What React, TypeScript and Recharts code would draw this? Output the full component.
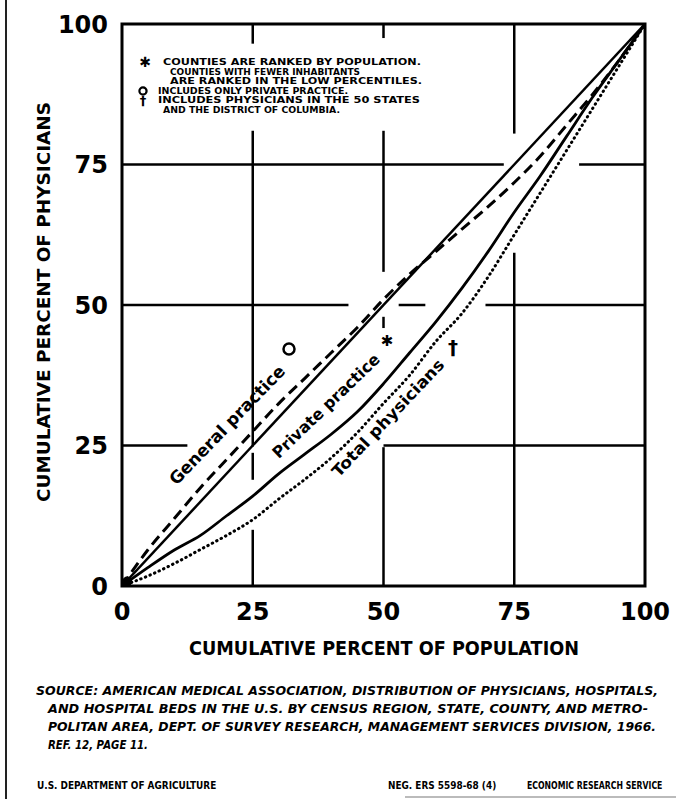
import React from "react";
import { LineChart, Line, XAxis, YAxis, ReferenceLine, ReferenceArea, ReferenceDot } from "recharts";

// cumulative percent of population (x) and cumulative percent of physicians (y)
const popPct = [0, 5, 10, 15, 20, 25, 30, 35, 40, 45, 50, 55, 60, 65, 70, 75, 80, 85, 90, 95, 100];
const generalPractice = [0, 6.5, 12, 17.5, 22.5, 27.5, 32.5, 37, 41.5, 46, 51, 55.5, 59.5, 63.5, 67.5, 71.8, 76.5, 82, 87.5, 93.5, 100];
const privatePractice = [0, 3.3, 6.4, 9, 12.5, 16, 20, 23.5, 27, 31, 36, 41.5, 47, 53, 59.5, 66.5, 73, 80, 87, 93.5, 100];
const totalPhysicians = [0, 1.8, 4, 6.5, 9, 11.8, 15.5, 19, 22.8, 27.3, 32.5, 37.5, 43.5, 48.5, 55, 62.5, 70, 77.5, 85, 92.5, 100];
const equalityX = [0, 100];
const equalityY = [0, 100];
const axisTicks = [0, 25, 50, 75, 100];

const legendLines = [
  "COUNTIES ARE RANKED BY POPULATION.",
  "COUNTIES WITH FEWER INHABITANTS",
  "ARE RANKED IN THE LOW PERCENTILES.",
  "INCLUDES ONLY PRIVATE PRACTICE.",
  "INCLUDES PHYSICIANS IN THE 50 STATES",
  "AND THE DISTRICT OF COLUMBIA.",
];
const sourceLines = [
  "SOURCE: AMERICAN MEDICAL ASSOCIATION, DISTRIBUTION OF PHYSICIANS, HOSPITALS,",
  "AND HOSPITAL BEDS IN THE U.S. BY CENSUS REGION, STATE, COUNTY, AND METRO-",
  "POLITAN AREA, DEPT. OF SURVEY RESEARCH, MANAGEMENT SERVICES DIVISION, 1966.",
  "REF. 12, PAGE 11.",
];

const rows = (xs: number[], ys: number[]) => xs.map((x, i) => ({ x, y: ys[i] }));

// hand-drafted grid: lines are broken where curves and labels pass
const gridSegs: [number, number, number, number][] = [
  [25, 100, 25, 96.5], [25, 81, 25, 24.8], [25, 23.7, 25, 18.9], [25, 10, 25, 0],
  [50, 100, 50, 97.5], [50, 81, 50, 55.9], [50, 47.9, 50, 45.9], [50, 24.7, 50, 0],
  [75, 100, 75, 80.5], [75, 59.3, 75, 0],
  [0, 75, 73, 75], [87.4, 75, 100, 75],
  [0, 50, 43.3, 50], [52.9, 50, 58, 50], [69.5, 50, 100, 50],
  [0, 25, 12.5, 25], [50, 25, 100, 25],
];

const font = "'DejaVu Sans', sans-serif";
const tickStyle = { fontSize: 24, fontWeight: 700, fill: "#000", fontFamily: font };

// squeeze a footer text horizontally (condensed type of the original)
function Condensed({ x, y, sx, size, children }: { x: number; y: number; sx: number; size: number; children: string }) {
  return (
    <g transform={`translate(${x},${y}) scale(${sx},1)`}>
      <text fontSize={size}>{children}</text>
    </g>
  );
}

export default function App() {
  return (
    <div style={{ position: "absolute", left: 0, top: 0, width: 676, height: 799, background: "#fff", overflow: "hidden" }}>
      <div style={{ position: "absolute", left: 5, top: 0, width: 2, height: 799, background: "#222" }} />
      <div style={{ position: "absolute", left: 405, top: 796, width: 271, height: 2, background: "#bbb" }} />
      <LineChart width={676} height={799} margin={{ top: 24, right: 31, bottom: 183, left: 62 }}>
        <XAxis type="number" dataKey="x" domain={[0, 100]} ticks={axisTicks} allowDataOverflow
          axisLine={false} tickLine={false} tickSize={6} tickMargin={11} tick={tickStyle} height={30} />
        <YAxis type="number" dataKey="y" domain={[0, 100]} ticks={axisTicks} allowDataOverflow
          axisLine={false} tickLine={false} tickSize={6} tickMargin={8} tick={tickStyle} width={60} />
        {gridSegs.map((s, i) => (
          <ReferenceLine key={i} segment={[{ x: s[0], y: s[1] }, { x: s[2], y: s[3] }]} stroke="#000" strokeWidth={2.5} />
        ))}
        <ReferenceArea x1={0} x2={100} y1={0} y2={100} fill="none" stroke="#000" strokeWidth={3} />
        <Line data={rows(equalityX, equalityY)} dataKey="y" type="linear" stroke="#000" strokeWidth={2.5}
          dot={false} activeDot={false} isAnimationActive={false} />
        <Line data={rows(popPct, generalPractice)} dataKey="y" type="monotone" stroke="#000" strokeWidth={3}
          strokeDasharray="11 6" dot={false} activeDot={false} isAnimationActive={false} />
        <Line data={rows(popPct, privatePractice)} dataKey="y" type="monotone" stroke="#000" strokeWidth={2.8}
          dot={false} activeDot={false} isAnimationActive={false} />
        <Line data={rows(popPct, totalPhysicians)} dataKey="y" type="monotone" stroke="#000" strokeWidth={3}
          strokeDasharray="0.5 4.5" strokeLinecap="round" dot={false} activeDot={false} isAnimationActive={false} />
        <ReferenceDot x={1} y={0.8} r={5} fill="#000" stroke="none" />
      </LineChart>
      <svg width={676} height={799} style={{ position: "absolute", left: 0, top: 0, pointerEvents: "none" }}
        fontFamily={font} fontWeight={700} fill="#000">
        {/* notes box */}
        <text x={145} y={67} fontSize={14} textAnchor="middle">✱</text>
        <circle cx={143} cy={91} r={3.6} fill="none" stroke="#000" strokeWidth={2.2} />
        <text x={143} y={105} fontSize={13} textAnchor="middle">†</text>
        {legendLines.map((t, i) => {
          const xs = [163, 170, 170, 158, 158, 163];
          const ws = [258, 190, 252, 190, 262, 177];
          return (
            <text key={i} x={xs[i]} y={65 + i * 9.6} fontSize={8.2} textLength={ws[i]} lengthAdjust="spacingAndGlyphs">{t}</text>
          );
        })}
        {/* curve labels */}
        <g transform="translate(227,425) rotate(-46)">
          <text textAnchor="middle" dominantBaseline="central" fontSize={17} textLength={158} lengthAdjust="spacingAndGlyphs">General practice</text>
        </g>
        <circle cx={289} cy={349} r={5.5} fill="none" stroke="#000" strokeWidth={2.5} />
        <g transform="translate(326,406) rotate(-44)">
          <text textAnchor="middle" dominantBaseline="central" fontSize={16} textLength={142} lengthAdjust="spacingAndGlyphs">Private practice</text>
        </g>
        <text x={387} y={346} fontSize={15} textAnchor="middle">✱</text>
        <g transform="translate(388,418) rotate(-46.5)">
          <text textAnchor="middle" dominantBaseline="central" fontSize={16} textLength={155} lengthAdjust="spacingAndGlyphs">Total physicians</text>
        </g>
        <text x={453} y={354} fontSize={20} textAnchor="middle">†</text>
        {/* axis titles */}
        <text x={384} y={655} fontSize={19} textAnchor="middle" textLength={390} lengthAdjust="spacingAndGlyphs">CUMULATIVE PERCENT OF POPULATION</text>
        <g transform="translate(50,302) rotate(-90)">
          <text textAnchor="middle" fontSize={17} textLength={400} lengthAdjust="spacingAndGlyphs">CUMULATIVE PERCENT OF PHYSICIANS</text>
        </g>
        {/* source */}
        {sourceLines.map((t, i) => {
          const xs = [36, 48, 48, 48];
          const ws = [622, 600, 608, 100];
          return (
            <text key={i} x={xs[i]} y={695 + i * 18} fontSize={12} fontStyle="italic" textLength={ws[i]} lengthAdjust="spacingAndGlyphs">{t}</text>
          );
        })}
        <Condensed x={37} y={789} sx={0.85} size={10.5}>U.S. DEPARTMENT OF AGRICULTURE</Condensed>
        <Condensed x={388} y={789} sx={0.85} size={10.5}>NEG. ERS 5598-68 (4)</Condensed>
        <Condensed x={527} y={789} sx={0.74} size={10.5}>ECONOMIC RESEARCH SERVICE</Condensed>
      </svg>
    </div>
  );
}
